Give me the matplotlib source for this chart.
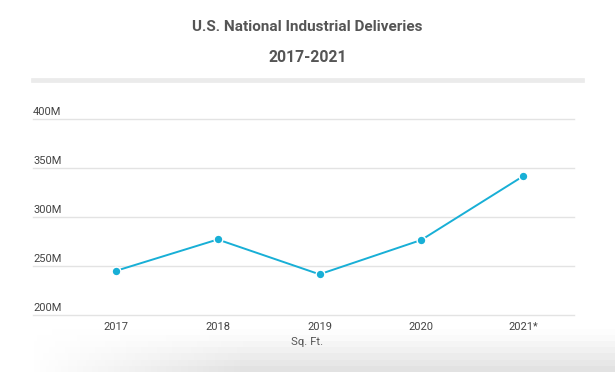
import matplotlib.pyplot as plt
import numpy as np

years = ["2017", "2018", "2019", "2020", "2021*"]
deliveries = [245.5, 277.5, 242.0, 277.0, 342.0]  # million sq. ft.
y_ticks = [200, 250, 300, 350, 400]
y_labels = ["200M", "250M", "300M", "350M", "400M"]

plt.rcParams["font.family"] = ["Roboto", "DejaVu Sans"]

W, H = 615, 372
fig = plt.figure(figsize=(W / 100, H / 100), dpi=100)

# soft grey shadow along the bottom edge
bg = fig.add_axes([0, 0, 1, 1], zorder=-5)
bg.axis("off")
yy = np.linspace(0, 1, 60)[:, None]
xx = np.linspace(0, 1, 200)[None, :]
alpha = np.clip((yy - 0.89) / 0.11, 0, 1) ** 1.2 * np.clip((xx - 0.05) / 0.35, 0, 1)
img = np.zeros((60, 200, 4))
img[..., :3] = 0.89
img[..., 3] = alpha
bg.imshow(img, extent=[0, 1, 1, 0], aspect="auto", origin="upper")
bg.set_xlim(0, 1)
bg.set_ylim(1, 0)

fig.text(0.5, 1 - 27 / H, "U.S. National Industrial Deliveries", ha="center", va="center",
         fontsize=11, fontweight="bold", color="#555555")
fig.text(0.5, 1 - 58 / H, "2017-2021", ha="center", va="center",
         fontsize=11.3, fontweight="bold", color="#555555")
fig.add_artist(plt.Line2D([33 / W, 582 / W], [1 - 80 / H, 1 - 80 / H], color="#ebebeb", lw=3.4))

left, right = 65, 574
bottom, top = 315.5, 119.3
ax = fig.add_axes([left / W, 1 - bottom / H, (right - left) / W, (bottom - top) / H])
x = np.arange(len(years))
ax.set_xlim(-0.5, len(years) - 0.5)
ax.set_ylim(200, 400)
for s in ax.spines.values():
    s.set_visible(False)

ext = (33 - left) / (right - left)
for t, lab in zip(y_ticks, y_labels):
    ax.axhline(t, xmin=ext, xmax=1, color="#e3e3e3", lw=1.0, clip_on=False, zorder=0)
    ax.text(ext, t + 2.2, lab, transform=ax.get_yaxis_transform(), ha="left", va="bottom",
            fontsize=8, color="#444444")
ax.set_yticks([])

ax.plot(x, deliveries, color="#18afd6", lw=1.4, marker="o", ms=6.3,
        markeredgecolor="white", markeredgewidth=1.0, zorder=3, clip_on=False)

ax.set_xticks(x)
ax.set_xticklabels(years, fontsize=8, color="#444444")
ax.tick_params(axis="x", length=0, pad=5)

fig.text(0.5, 1 - 342 / H, "Sq. Ft.", ha="center", va="center", fontsize=8.2, color="#555555")

fig.savefig("out.png", dpi=100)
